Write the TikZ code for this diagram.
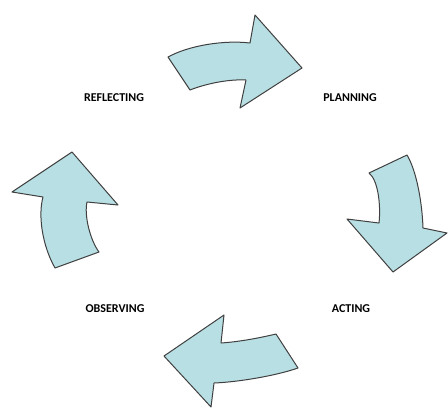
\documentclass[tikz,border=0pt]{standalone}
\usepackage{fontspec}
\setmainfont{Carlito}
\definecolor{arrowfill}{RGB}{184,223,228}
\definecolor{arrowline}{RGB}{64,64,64}

\begin{document}
\begin{tikzpicture}[x=0.75pt,y=0.75pt,yscale=-1,xscale=1,
  cyclearrow/.style={draw=arrowline,fill=arrowfill,line width=0.75pt,line join=round},
  steplabel/.style={inner sep=0.75pt,font=\fontsize{9}{11}\selectfont\bfseries}]
\useasboundingbox (0,0) rectangle (448,407);

%Shape: Curved Arrow (top, to planning)
\draw [cyclearrow] (168,57) .. controls (190,45) and (225,40) .. (250,43) -- (255,15) -- (302,68) -- (240,108) -- (246,80) .. controls (228,79) and (205,84) .. (190,90) -- cycle ;
%Shape: Curved Arrow (right, to acting)
\draw [cyclearrow] (369,173) -- (407,155) .. controls (416,170) and (422,200) .. (423,228) -- (447,233) -- (393,272) -- (347,219) -- (379,223) .. controls (381,205) and (378,180) .. (369,173) -- cycle ;
%Shape: Curved Arrow (bottom, to observing)
\draw [cyclearrow] (276,334) -- (298,368) .. controls (275,376) and (238,382) .. (214,383) -- (211,407) -- (164,356) -- (224,315) -- (221,343) .. controls (236,342) and (255,339) .. (276,334) -- cycle ;
%Shape: Curved Arrow (left, to reflecting)
\draw [cyclearrow] (55,268) -- (99,252) .. controls (90,240) and (84,215) .. (87,202) -- (118,205) -- (72,152) -- (12,192) -- (43,197) .. controls (38,215) and (42,245) .. (55,268) -- cycle ;

% Text Node
\node [steplabel] (planning) at (350,98) {PLANNING};
% Text Node
\node [steplabel] (acting) at (351,309) {ACTING};
% Text Node
\node [steplabel] (observing) at (115,309) {OBSERVING};
% Text Node
\node [steplabel] (reflecting) at (114,98) {REFLECTING};

\end{tikzpicture}
\end{document}
